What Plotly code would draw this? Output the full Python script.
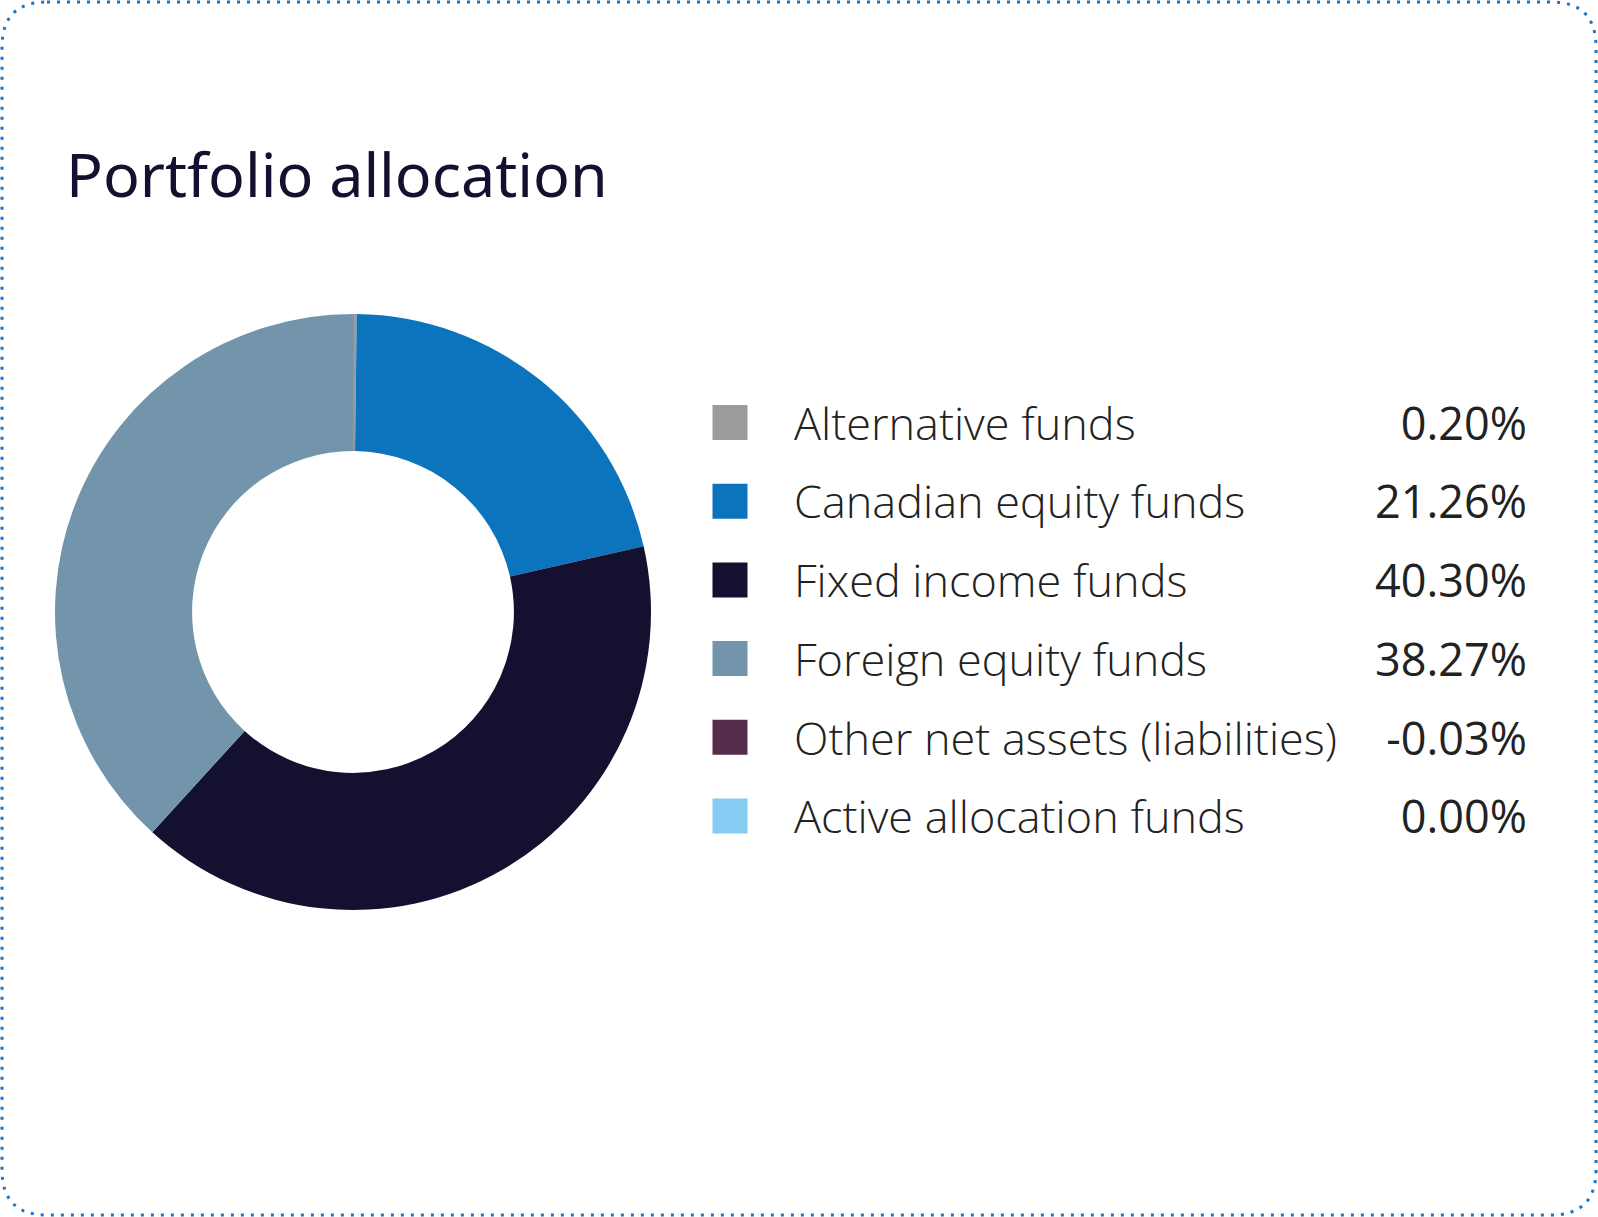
import plotly.graph_objects as go

# data
labels = ["Alternative funds", "Canadian equity funds", "Fixed income funds",
          "Foreign equity funds", "Other net assets (liabilities)", "Active allocation funds"]
values = [0.20, 21.26, 40.30, 38.27, -0.03, 0.00]
colors = ["#9b9b9d", "#0c73bd", "#13112f", "#7295ab", "#552d4b", "#86cbf2"]
value_text = ["%.2f%%" % v for v in values]

W, H = 1598, 1217

# pie geometry (pixels)
cx, cy, rad = 353, 612, 298
# legend rows (pixels)
row_first, row_step = 422.5, 78.7
text_drop = 6
n = len(labels)
row_top = row_first - row_step / 2
row_bot = row_first + row_step * (n - 1) + row_step / 2

fig = go.Figure()

fig.add_trace(go.Pie(
    labels=labels, values=values, sort=False, direction="clockwise", rotation=0,
    hole=0.54, marker=dict(colors=colors, line=dict(width=0)),
    textinfo="none", hoverinfo="label+percent", showlegend=False,
    domain=dict(x=[(cx - rad) / W, (cx + rad) / W], y=[1 - (cy + rad) / H, 1 - (cy - rad) / H]),
))

# legend squares
fig.add_trace(go.Scatter(
    x=[730] * n, y=labels, mode="markers",
    marker=dict(symbol="square", size=35, color=colors, line=dict(width=0)),
    showlegend=False, hoverinfo="skip",
))
# legend labels
fig.add_trace(go.Scatter(
    x=[794] * n, y=labels, mode="text", text=labels, textposition="middle right",
    textfont=dict(family="Open Sans", size=45, color="#222222", weight=300),
    showlegend=False, hoverinfo="skip", yaxis="y2",
))
# legend values
fig.add_trace(go.Scatter(
    x=[1527] * n, y=labels, mode="text", text=value_text, textposition="middle left",
    textfont=dict(family="Open Sans", size=45, color="#222222"),
    showlegend=False, hoverinfo="skip", yaxis="y2",
))

# dotted rounded frame
r = 45
x0, y0, x1, y1 = 2, 2, W - 2, H - 2
def px(x):
    return x / W
def py(y):
    return 1 - y / H
frame = ("M %f,%f L %f,%f Q %f,%f %f,%f L %f,%f Q %f,%f %f,%f L %f,%f Q %f,%f %f,%f L %f,%f Q %f,%f %f,%f Z" % (
    px(x0 + r), py(y0), px(x1 - r), py(y0),
    px(x1), py(y0), px(x1), py(y0 + r),
    px(x1), py(y1 - r),
    px(x1), py(y1), px(x1 - r), py(y1),
    px(x0 + r), py(y1),
    px(x0), py(y1), px(x0), py(y1 - r),
    px(x0), py(y0 + r),
    px(x0), py(y0), px(x0 + r), py(y0)))

cat_axis = dict(type="category", categoryorder="array", categoryarray=labels,
                range=[n - 0.5, -0.5], visible=False, fixedrange=True, anchor="x")

fig.update_layout(
    width=W, height=H,
    margin=dict(l=0, r=0, t=0, b=0),
    paper_bgcolor="white", plot_bgcolor="rgba(0,0,0,0)",
    xaxis=dict(range=[0, W], domain=[0, 1], visible=False, fixedrange=True),
    yaxis=dict(cat_axis, domain=[1 - row_bot / H, 1 - row_top / H]),
    yaxis2=dict(cat_axis, domain=[1 - (row_bot + text_drop) / H, 1 - (row_top + text_drop) / H]),
    shapes=[dict(type="path", path=frame, xref="paper", yref="paper",
                 line=dict(color="#1a75c2", width=3, dash="3px,7px"))],
    annotations=[dict(text="Portfolio allocation", x=64 / W, y=1 - 173 / H,
                      xref="paper", yref="paper", xanchor="left", yanchor="middle",
                      showarrow=False,
                      font=dict(family="Noto Sans", size=61, color="#13112f"))],
)

# drop the page's default body margin so the figure sits at the window corner
fig.write_html("out.html", config={"displayModeBar": False},
               post_script="document.body.style.margin='0px';")
